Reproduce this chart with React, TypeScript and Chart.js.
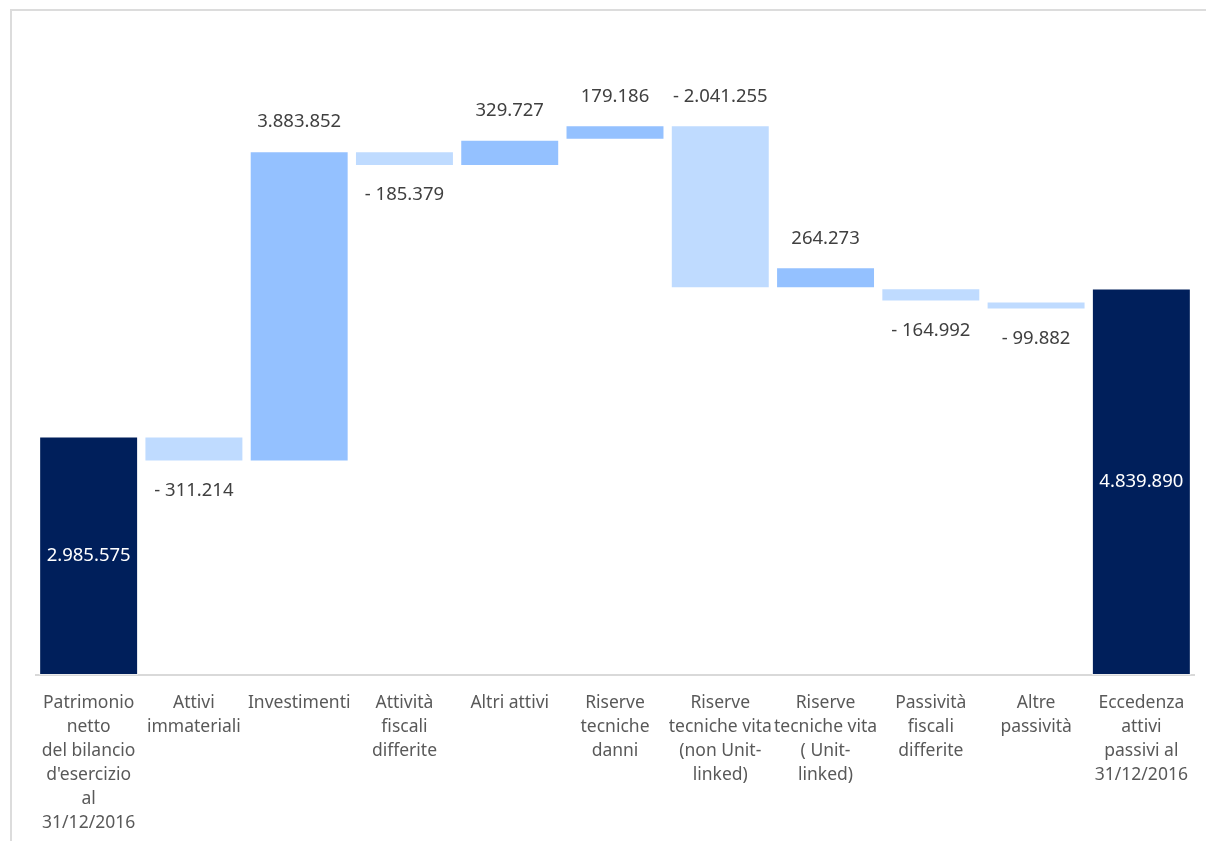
import React, { useEffect, useRef } from "react";
import { Chart, registerables } from "chart.js";

Chart.register(...registerables);

const categories: string[][] = [
  ["Patrimonio", "netto", "del bilancio", "d'esercizio", "al", "31/12/2016"],
  ["Attivi", "immateriali"],
  ["Investimenti"],
  ["Attività", "fiscali", "differite"],
  ["Altri attivi"],
  ["Riserve", "tecniche", "danni"],
  ["Riserve", "tecniche vita", "(non Unit-", "linked)"],
  ["Riserve", "tecniche vita", "( Unit-", "linked)"],
  ["Passività", "fiscali", "differite"],
  ["Altre", "passività"],
  ["Eccedenza", "attivi", "passivi al", "31/12/2016"],
];

// Values shown on each bar (totals for first/last, changes in between)
const barValues = [
  2985575, -311214, 3883852, -185379, 329727, 179186, -2041255, 264273, -164992, -99882, 4839890,
];

// Level each bar starts from, as drawn in the chart
const barStarts = [
  0, 2985575, 2674361, 6558213, 6372834, 6702561, 6881747, 4840492, 4840492, 4675500, 0,
];

// Which bars are totals
const isTotal = [true, false, false, false, false, false, false, false, false, false, true];

// indices whose label sits above the bar even though the value is negative
const labelAboveIdx = [6];

const NAVY = "#001f5b";
const POS = "#94c1ff";
const NEG = "#bfdbff";

function fmt(v: number): string {
  const s = Math.abs(Math.round(v)).toString().replace(/\B(?=(\d{3})+(?!\d))/g, ".");
  return v < 0 ? "- " + s : s;
}

export default function App() {
  const ref = useRef<HTMLCanvasElement | null>(null);

  useEffect(() => {
    if (!ref.current) return;
    const ranges = barValues.map((v, i) => [barStarts[i], barStarts[i] + v]);
    const colors = barValues.map((v, i) => (isTotal[i] ? NAVY : v >= 0 ? POS : NEG));

    const labelPlugin = {
      id: "wfLabels",
      afterDatasetsDraw(chart: any) {
        const ctx = chart.ctx;
        const meta = chart.getDatasetMeta(0);
        ctx.save();
        ctx.font = '18.5px "Noto Sans"';
        ctx.textAlign = "center";
        ctx.textBaseline = "middle";
        meta.data.forEach((el: any, i: number) => {
          const top = Math.min(el.y, el.base);
          const bottom = Math.max(el.y, el.base);
          const v = barValues[i];
          let y: number;
          if (isTotal[i]) {
            ctx.fillStyle = "#ffffff";
            y = (top + bottom) / 2;
          } else {
            ctx.fillStyle = "#404040";
            if (v >= 0 || labelAboveIdx.includes(i)) y = top - 29;
            else y = bottom + 29;
          }
          ctx.fillText(fmt(v), el.x, y);
        });
        ctx.restore();
      },
    };

    const chart = new Chart(ref.current, {
      type: "bar",
      data: {
        labels: categories,
        datasets: [
          {
            data: ranges as any,
            backgroundColor: colors,
            borderColor: "rgba(255,255,255,0.5)",
            borderWidth: 1,
            borderSkipped: false,
            barPercentage: 0.94,
            categoryPercentage: 1,
          },
        ],
      },
      options: {
        animation: false,
        responsive: false,
        maintainAspectRatio: false,
        layout: { padding: { left: 36, right: 12, top: 36, bottom: 0 } },
        plugins: {
          legend: { display: false },
          tooltip: { enabled: false },
        },
        scales: {
          x: {
            grid: { display: false, drawTicks: false },
            border: { display: true, color: "#d9d9d9", width: 2 },
            ticks: {
              autoSkip: false,
              maxRotation: 0,
              minRotation: 0,
              padding: 16,
              color: "#595959",
              font: { family: '"Noto Sans"', size: 17.5, lineHeight: 1.37 },
            },
            afterFit: (axis: any) => {
              axis.height = 166;
            },
          },
          y: {
            display: false,
            min: 0,
            max: 8000000,
          },
        },
      },
      plugins: [labelPlugin],
    });
    return () => chart.destroy();
  }, []);

  return (
    <div
      style={{
        position: "fixed",
        left: 0,
        top: 0,
        width: 1206,
        height: 841,
        overflow: "hidden",
        background: "#ffffff",
      }}
    >
      <div
        style={{
          position: "absolute",
          left: 10,
          top: 9,
          width: 1400,
          height: 1000,
          borderLeft: "2px solid #dcdcdc",
          borderTop: "2px solid #dcdcdc",
        }}
      />
      <canvas
        ref={ref}
        width={1206}
        height={841}
        style={{ position: "absolute", left: 0, top: 0, width: 1206, height: 841 }}
      />
    </div>
  );
}
